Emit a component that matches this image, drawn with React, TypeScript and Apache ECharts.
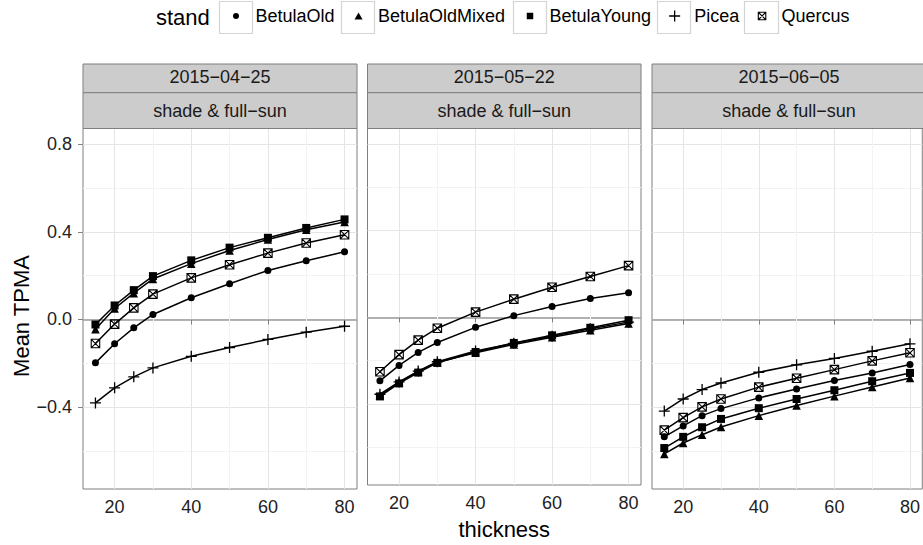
import React, { useEffect, useRef } from 'react';
import * as echarts from 'echarts';

// ---------- data ----------
const THICKNESS = [15, 20, 25, 30, 40, 50, 60, 70, 80];
const STANDS = ['BetulaOld', 'BetulaOldMixed', 'BetulaYoung', 'Picea', 'Quercus'];
const DATES = ['2015\u221204\u221225', '2015\u221205\u221222', '2015\u221206\u221205'];
const LIGHT = 'shade & full\u2212sun';
const X_TICKS = [20, 40, 60, 80];
const X_MINOR = [30, 50, 70];
const Y_TICKS = [-0.4, 0, 0.4, 0.8];
const Y_MINOR = [-0.6, -0.2, 0.2, 0.6];
const X_RANGE = [11.75, 83.25];
const Y_RANGE = [-0.774, 0.872];

// 2015-04-25
const apr25_BetulaOld = [-0.198, -0.111, -0.038, 0.023, 0.099, 0.163, 0.224, 0.268, 0.309];
const apr25_BetulaOldMixed = [-0.045, 0.05, 0.12, 0.185, 0.255, 0.315, 0.365, 0.41, 0.445];
const apr25_BetulaYoung = [-0.023, 0.064, 0.134, 0.198, 0.27, 0.328, 0.373, 0.418, 0.457];
const apr25_Picea = [-0.381, -0.312, -0.262, -0.221, -0.168, -0.128, -0.091, -0.058, -0.031];
const apr25_Quercus = [-0.11, -0.021, 0.053, 0.116, 0.19, 0.25, 0.303, 0.349, 0.387];

// 2015-05-22
const may22_BetulaOld = [-0.293, -0.222, -0.162, -0.116, -0.046, 0.008, 0.05, 0.087, 0.114];
const may22_BetulaOldMixed = [-0.36, -0.3, -0.25, -0.207, -0.163, -0.125, -0.092, -0.06, -0.028];
const may22_BetulaYoung = [-0.365, -0.305, -0.255, -0.21, -0.16, -0.118, -0.083, -0.048, -0.013];
const may22_Picea = [-0.355, -0.298, -0.248, -0.205, -0.155, -0.12, -0.087, -0.053, -0.022];
const may22_Quercus = [-0.251, -0.172, -0.105, -0.05, 0.024, 0.084, 0.139, 0.189, 0.239];

// 2015-06-05
const jun05_BetulaOld = [-0.536, -0.486, -0.439, -0.407, -0.358, -0.317, -0.279, -0.244, -0.206];
const jun05_BetulaOldMixed = [-0.614, -0.564, -0.526, -0.491, -0.439, -0.393, -0.35, -0.308, -0.267];
const jun05_BetulaYoung = [-0.587, -0.536, -0.492, -0.454, -0.405, -0.363, -0.323, -0.282, -0.244];
const jun05_Picea = [-0.418, -0.363, -0.32, -0.29, -0.241, -0.207, -0.178, -0.145, -0.111];
const jun05_Quercus = [-0.505, -0.448, -0.399, -0.363, -0.309, -0.268, -0.229, -0.189, -0.152];

const PANEL_VALUES: number[][][] = [
  [apr25_BetulaOld, apr25_BetulaOldMixed, apr25_BetulaYoung, apr25_Picea, apr25_Quercus],
  [may22_BetulaOld, may22_BetulaOldMixed, may22_BetulaYoung, may22_Picea, may22_Quercus],
  [jun05_BetulaOld, jun05_BetulaOldMixed, jun05_BetulaYoung, jun05_Picea, jun05_Quercus],
];

// ---------- styling ----------
const FONT = '"Liberation Sans", Arial, Helvetica, sans-serif';
const PANELS = [
  { left: 83, width: 274 },
  { left: 367.5, width: 273.5 },
  { left: 652, width: 274 },
];
const GRID_TOP = 128.5;
const GRID_H = 360.5;

const CIRCLE = 'path://M1,0A1,1,0,1,1,-1,0A1,1,0,1,1,1,0Z';
const TRIANGLE = 'path://M0,-1L1,0.732L-1,0.732Z';
const SQUARE = 'path://M-1,-1L1,-1L1,1L-1,1Z';
const PLUS = 'path://M-1,0L1,0M0,-1L0,1';
const SQUARE_X = 'path://M-1,-1L1,-1L1,1L-1,1ZM-1,-1L1,1M1,-1L-1,1';

const SYM: Record<string, any> = {
  BetulaOld: { symbol: CIRCLE, size: 7, legendSize: 6, fill: '#000', bw: 0 },
  BetulaOldMixed: { symbol: TRIANGLE, size: 8.5, legendSize: 7, fill: '#000', bw: 0 },
  BetulaYoung: { symbol: SQUARE, size: 8, legendSize: 6.5, fill: '#000', bw: 0 },
  Picea: { symbol: PLUS, size: 11, legendSize: 11, fill: 'rgba(0,0,0,0)', bw: 1.3 },
  Quercus: { symbol: SQUARE_X, size: 8.5, legendSize: 7.5, fill: 'rgba(0,0,0,0)', bw: 1.1 },
};

const LEGEND_BOXES = [
  { x: 219, w: 33 },
  { x: 341, w: 33 },
  { x: 513, w: 33 },
  { x: 657, w: 33 },
  { x: 744, w: 34 },
];

const yFmt = (v: number) => (v < -1e-9 ? '\u2212' : '') + Math.abs(v).toFixed(1);

function buildOption() {
  const grid = PANELS.map((p) => ({
    left: p.left,
    top: GRID_TOP,
    width: p.width,
    height: GRID_H,
    show: true,
    backgroundColor: '#fff',
    borderColor: '#7f7f7f',
    borderWidth: 1,
  }));

  const xAxis: any[] = [];
  const yAxis: any[] = [];
  PANELS.forEach((_, p) => {
    xAxis.push({
      type: 'value',
      gridIndex: p,
      min: X_RANGE[0],
      max: X_RANGE[1],
      axisLine: { show: false },
      axisTick: { show: true, length: 5, lineStyle: { color: '#7f7f7f', width: 1 }, customValues: X_TICKS },
      axisLabel: { show: true, customValues: X_TICKS, fontSize: 18, color: '#222', margin: 9, fontFamily: FONT },
      splitLine: { show: true, lineStyle: { color: '#e5e5e5', width: 1 } },
      name: p === 1 ? 'thickness' : '',
      nameLocation: 'middle',
      nameGap: 33,
      nameTextStyle: { fontSize: 22, color: '#000', fontFamily: FONT },
    });
    xAxis.push({
      type: 'value',
      gridIndex: p,
      min: X_RANGE[0],
      max: X_RANGE[1],
      axisLine: { show: false },
      axisTick: { show: false, customValues: X_MINOR },
      axisLabel: { show: false, customValues: X_MINOR },
      splitLine: { show: true, lineStyle: { color: '#f3f3f3', width: 1 } },
    });
    yAxis.push({
      type: 'value',
      gridIndex: p,
      min: Y_RANGE[0],
      max: Y_RANGE[1],
      axisLine: { show: false },
      axisTick: { show: p === 0, length: 5, lineStyle: { color: '#7f7f7f', width: 1 }, customValues: Y_TICKS },
      axisLabel: { show: p === 0, customValues: Y_TICKS, fontSize: 18, color: '#222', margin: 11, fontFamily: FONT, formatter: yFmt },
      splitLine: { show: true, lineStyle: { color: '#e5e5e5', width: 1 } },
    });
    yAxis.push({
      type: 'value',
      gridIndex: p,
      min: Y_RANGE[0],
      max: Y_RANGE[1],
      axisLine: { show: false },
      axisTick: { show: false, customValues: Y_MINOR },
      axisLabel: { show: false, customValues: Y_MINOR },
      splitLine: { show: true, lineStyle: { color: '#f3f3f3', width: 1 } },
    });
    yAxis.push({
      type: 'value',
      gridIndex: p,
      min: Y_RANGE[0],
      max: Y_RANGE[1],
      axisLine: { show: false },
      axisTick: { show: false, customValues: [0] },
      axisLabel: { show: false, customValues: [0] },
      splitLine: { show: true, lineStyle: { color: '#9a9a9a', width: 1.6 } },
    });
  });

  const series: any[] = [];
  PANEL_VALUES.forEach((panel, p) => {
    STANDS.forEach((s, i) => {
      const st = SYM[s];
      series.push({
        type: 'line',
        name: s,
        xAxisIndex: p * 2,
        yAxisIndex: p * 3,
        data: THICKNESS.map((x, k) => [x, panel[i][k]]),
        symbol: st.symbol,
        symbolSize: st.size,
        showSymbol: true,
        showAllSymbol: true,
        itemStyle: { color: st.fill, borderColor: '#000', borderWidth: st.bw },
        lineStyle: { color: '#000', width: 1.5 },
        emphasis: { disabled: true },
        z: 3,
      });
    });
  });

  const legend = STANDS.map((s, i) => {
    const b = LEGEND_BOXES[i];
    const cx = b.x + 0.5 + b.w / 2;
    const st = SYM[s];
    return {
      show: true,
      selectedMode: false,
      orient: 'horizontal',
      left: cx - st.legendSize / 2,
      top: 7,
      padding: 0,
      itemWidth: 29,
      itemHeight: st.legendSize,
      symbolKeepAspect: true,
      textStyle: { fontSize: 18, color: '#000', fontFamily: FONT },
      data: [
        {
          name: s,
          icon: st.symbol,
          itemStyle: { color: st.fill, borderColor: '#000', borderWidth: st.bw },
        },
      ],
    };
  });

  const graphic: any[] = [];
  PANELS.forEach((p, i) => {
    graphic.push({
      type: 'rect',
      shape: { x: p.left, y: 64, width: p.width, height: 28.7 },
      style: { fill: '#cccccc', stroke: '#7f7f7f', lineWidth: 1 },
      z: 1,
    });
    graphic.push({
      type: 'rect',
      shape: { x: p.left, y: 92.7, width: p.width, height: 35.8 },
      style: { fill: '#cccccc', stroke: '#7f7f7f', lineWidth: 1 },
      z: 1,
    });
    graphic.push({
      type: 'text',
      x: p.left + p.width / 2,
      y: 77,
      style: {
        text: DATES[i],
        fontSize: 18,
        fontFamily: FONT,
        fill: '#1a1a1a',
        align: 'center',
        verticalAlign: 'middle',
        textAlign: 'center',
        textVerticalAlign: 'middle',
      },
      z: 2,
    });
    graphic.push({
      type: 'text',
      x: p.left + p.width / 2,
      y: 111,
      style: {
        text: LIGHT,
        fontSize: 18,
        fontFamily: FONT,
        fill: '#1a1a1a',
        align: 'center',
        verticalAlign: 'middle',
        textAlign: 'center',
        textVerticalAlign: 'middle',
      },
      z: 2,
    });
  });
  LEGEND_BOXES.forEach((b) => {
    graphic.push({
      type: 'rect',
      shape: { x: b.x + 0.5, y: 1.5, width: b.w, height: 32 },
      style: { fill: '#fff', stroke: '#d4d4d4', lineWidth: 1.2 },
      z: 0,
    });
  });
  graphic.push({
    type: 'text',
    x: 156,
    y: 17,
    style: {
      text: 'stand',
      fontSize: 22,
      fontFamily: FONT,
      fill: '#000',
      align: 'left',
      verticalAlign: 'middle',
      textAlign: 'left',
      textVerticalAlign: 'middle',
    },
  });
  graphic.push({
    type: 'text',
    x: 21,
    y: 316,
    rotation: Math.PI / 2,
    style: {
      text: 'Mean TPMA',
      fontSize: 22,
      fontFamily: FONT,
      fill: '#000',
      align: 'center',
      verticalAlign: 'middle',
      textAlign: 'center',
      textVerticalAlign: 'middle',
    },
  });

  return {
    animation: false,
    backgroundColor: '#fff',
    textStyle: { fontFamily: FONT },
    grid,
    xAxis,
    yAxis,
    series,
    legend,
    graphic,
  };
}

export default function App() {
  const ref = useRef<HTMLDivElement>(null);
  useEffect(() => {
    if (!ref.current) return;
    const chart = echarts.init(ref.current, undefined, { renderer: 'svg' });
    chart.setOption(buildOption() as any);
    return () => chart.dispose();
  }, []);
  return (
    <div
      ref={ref}
      style={{ position: 'fixed', left: 0, top: 0, width: 923, height: 545, background: '#fff' }}
    />
  );
}
